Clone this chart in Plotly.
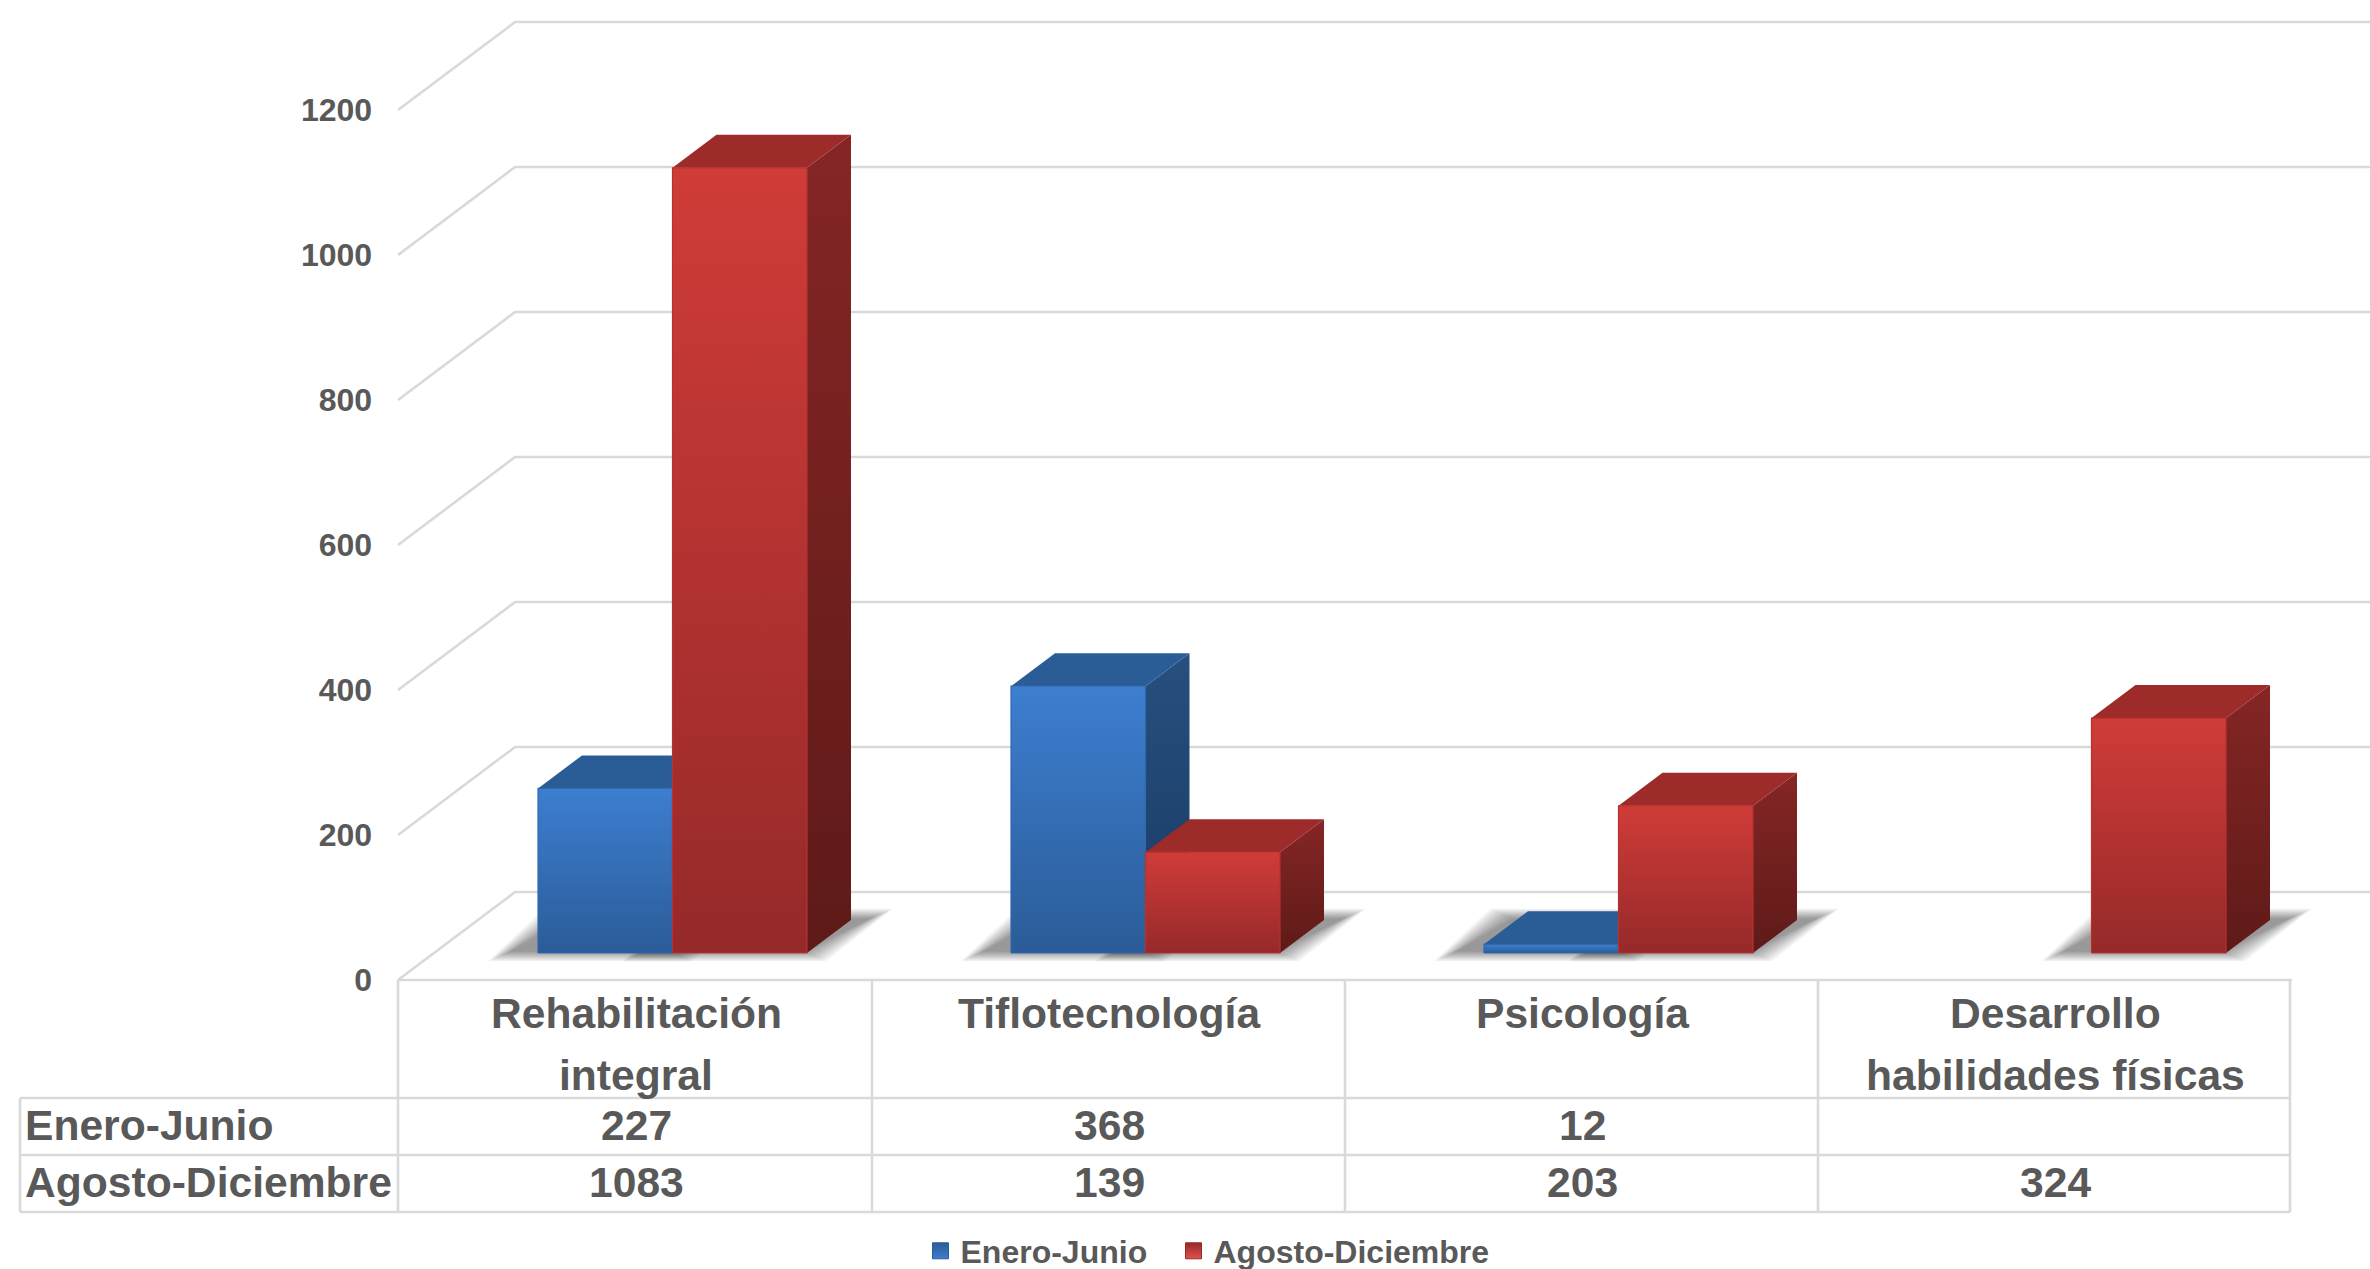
import plotly.graph_objects as go

categories = ["Rehabilitación integral", "Tiflotecnología", "Psicología", "Desarrollo habilidades físicas"]
category_lines = [["Rehabilitación", "integral"], ["Tiflotecnología"], ["Psicología"], ["Desarrollo", "habilidades físicas"]]
series_names = ["Enero-Junio", "Agosto-Diciembre"]
enero_junio = [227, 368, 12, None]
agosto_diciembre = [1083, 139, 203, 324]
y_ticks = [0, 200, 400, 600, 800, 1000, 1200]

W, H = 2370, 1269
PX_LEFT, PX_FLOOR, CELL = 398, 980, 473
PX_PER_VALUE = 145 / 200
FONT = "Liberation Sans, Arial, sans-serif"
TXT = "#595959"
GRID = "#d9d9d9"


def dx(px):
    return px / CELL


def dy(px):
    return px / PX_PER_VALUE


def X(px):
    return (px - PX_LEFT) / CELL


def Y(px):
    return (PX_FLOOR - px) / PX_PER_VALUE


WALL_X, WALL_Y = dx(117), dy(88)
BAR_W = dx(134.5)
SHIFT_X, SHIFT_Y = dx(38), dy(27)
DEPTH_X, DEPTH_Y = dx(44), dy(33)

STYLE = [
    dict(front=("#2b5c98", "#3d7ed0"), rim="#2f69b0", top="#2a5c96", side=("#1a3a63", "#26507f")),
    dict(front=("#96292a", "#d03c38"), rim="#b5322f", top="#9c2b29", side=("#5e1a18", "#852625")),
]

fig = go.Figure()


def line(xs, ys, width=2.6, color=GRID):
    fig.add_trace(go.Scatter(x=xs, y=ys, mode="lines", line=dict(color=color, width=width),
                             hoverinfo="skip", showlegend=False, cliponaxis=False))


def poly(xs, ys, fill=None, grad=None, rim=None):
    kw = dict(fillcolor=fill) if fill else dict(fillgradient=dict(type="vertical", colorscale=[[0, grad[0]], [1, grad[1]]]))
    fig.add_trace(go.Scatter(x=xs + xs[:1], y=ys + ys[:1], mode="lines", fill="toself",
                             line=dict(color=rim or "rgba(0,0,0,0)", width=1.2 if rim else 0),
                             hoverinfo="skip", showlegend=False, **kw))


# back wall and side wall gridlines
for v in y_ticks:
    line([0, WALL_X, X(W + 5)], [v, v + WALL_Y, v + WALL_Y])

# data table grid
for px in [398, 872, 1345, 1818, 2290]:
    line([X(px), X(px)], [Y(980), Y(1212)])
line([X(20), X(20)], [Y(1098), Y(1212)])
line([X(398), X(2292)], [Y(980), Y(980)])
for py in [1098, 1155, 1212]:
    line([X(20), X(2290)], [Y(py), Y(py)])

# contact shadows
all_values = [enero_junio, agosto_diciembre]
for i in range(len(categories)):
    for s, vals in enumerate(all_values):
        if vals[i] is None:
            continue
        x0 = i + 0.5 + SHIFT_X - BAR_W + s * BAR_W
        x1 = x0 + BAR_W
        for e in [14, 12, 10, 8, 6, 4, 2, 0, -2, -4, -6, -8]:
            xs = [x0 - dx(36 + e), x1 + dx(5 + e), x1 + dx(72 + e), x0 + dx(20 - e)]
            ys = [Y(955 + e * 0.45), Y(955 + e * 0.45), Y(915 - e * 0.45), Y(915 - e * 0.45)]
            poly(xs, ys, fill="rgba(0,0,0,0.04)")

# 3D columns
for i in range(len(categories)):
    for s, vals in enumerate(all_values):
        v = vals[i]
        if v is None:
            continue
        st = STYLE[s]
        x0 = i + 0.5 + SHIFT_X - BAR_W + s * BAR_W
        x1 = x0 + BAR_W
        b = SHIFT_Y
        t = SHIFT_Y + v
        poly([x1, x1 + DEPTH_X, x1 + DEPTH_X, x1], [b, b + DEPTH_Y, t + DEPTH_Y, t], grad=st["side"])
        poly([x0, x1, x1 + DEPTH_X, x0 + DEPTH_X], [t, t, t + DEPTH_Y, t + DEPTH_Y], fill=st["top"])
        poly([x0, x1, x1, x0], [b, b, t, t], grad=st["front"], rim=st["rim"])

# legend entries
for s, name in enumerate(series_names):
    fig.add_trace(go.Scatter(
        x=[None], y=[None], mode="markers", name=name, showlegend=True, hoverinfo="skip",
        legend="legend" if s == 0 else "legend2",
        marker=dict(symbol="square", size=20, color=STYLE[s]["front"][0],
                    gradient=dict(type="vertical", color=STYLE[s]["front"][1] if s == 0 else "#e0524e"),
                    line=dict(color=STYLE[s]["front"][0], width=1))))


def label(x, y, text, anchor="center"):
    fig.add_annotation(x=x, y=y, xref="x", yref="y", text=text, showarrow=False, xanchor=anchor, yanchor="middle",
                       font=dict(family=FONT, size=42.6, color=TXT, weight=700))


# category labels
center = 0.5 + dx(1.5)
for i, lines in enumerate(category_lines):
    for k, t in enumerate(lines):
        label(i + center, Y(1013 + 62 * k), t)

# table row labels and values
rows = [1125, 1182]
for r, (name, vals) in enumerate(zip(series_names, all_values)):
    label(X(23), Y(rows[r]), name, "left")
    for i, v in enumerate(vals):
        if v is not None:
            label(i + center, Y(rows[r]), str(v))

legend_common = dict(orientation="h", xanchor="left", y=(H - 1251) / H, yanchor="middle", bgcolor="rgba(0,0,0,0)",
                     font=dict(family=FONT, size=32, color=TXT, weight=700), itemwidth=30)

fig.update_layout(
    width=W, height=H, autosize=False,
    margin=dict(l=0, r=0, t=0, b=0, pad=0, autoexpand=False),
    paper_bgcolor="white", plot_bgcolor="white",
    xaxis=dict(range=[X(0), X(W)], showgrid=False, zeroline=False, showticklabels=False, showline=False, ticks=""),
    yaxis=dict(range=[Y(H), Y(0)], tickvals=y_ticks, showgrid=False, zeroline=False, showline=False,
               anchor="free", position=PX_LEFT / W,
               ticks="outside", ticklen=19.5, tickcolor="rgba(0,0,0,0)",
               tickfont=dict(family=FONT, size=32, color=TXT, weight=700)),
    showlegend=True,
    legend=dict(x=920.5 / W, **legend_common),
    legend2=dict(x=1173.5 / W, **legend_common),
)

fig.write_html("out.html", config={"displayModeBar": False},
               post_script="document.body.style.margin='0';document.documentElement.style.overflow='hidden';")
